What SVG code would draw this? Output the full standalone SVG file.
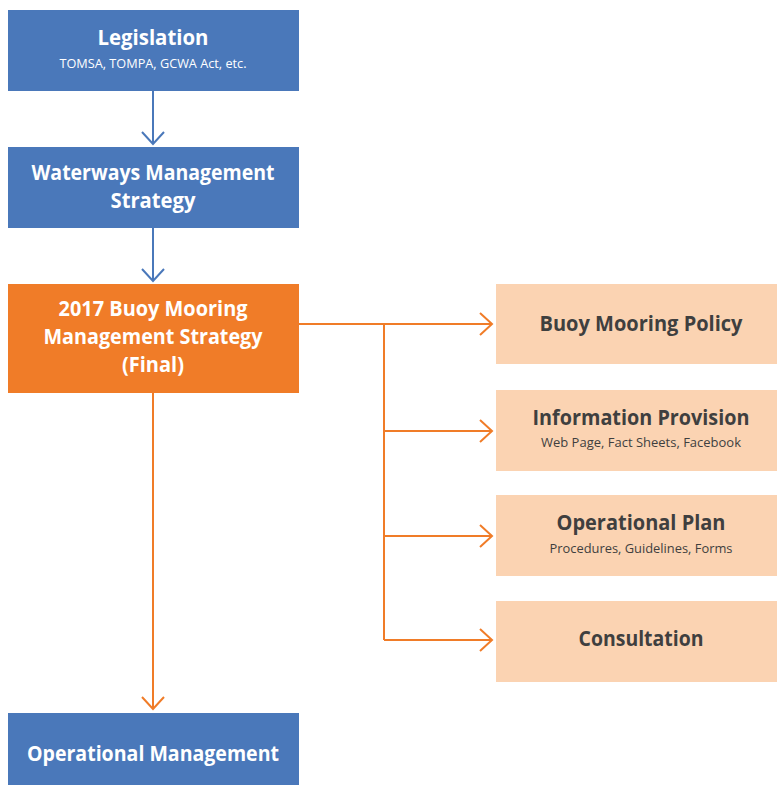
<svg xmlns="http://www.w3.org/2000/svg" width="777" height="785" viewBox="0 0 777 785">
<style>
.blue{fill:#4a78ba}
.orange{fill:#f07c28}
.peach{fill:#fbd3b2}
.t{font-family:"Open Sans","Liberation Sans",sans-serif;text-anchor:middle;font-weight:bold}
.w{fill:#ffffff}
.d{fill:#3f3f3f}
.s{font-family:"Open Sans","Liberation Sans",sans-serif;text-anchor:middle;font-size:12.5px}
.cb{stroke:#4a78ba;stroke-width:2;fill:none}
.co{stroke:#f07c28;stroke-width:2;fill:none}
</style>
<defs>
<marker id="ab" markerUnits="userSpaceOnUse" viewBox="-1 -1 14 24" refX="12" refY="11" markerWidth="14" markerHeight="24" orient="auto" overflow="visible">
<path d="M0,0 L12,11 L0,22" fill="none" stroke="#4a78ba" stroke-width="2"/>
</marker>
<marker id="ao" markerUnits="userSpaceOnUse" viewBox="-1 -1 14 24" refX="12" refY="11" markerWidth="14" markerHeight="24" orient="auto" overflow="visible">
<path d="M0,0 L12,11 L0,22" fill="none" stroke="#f07c28" stroke-width="2"/>
</marker>
</defs>
<g id="connectors">
<path class="cb" d="M153,91 V144" marker-end="url(#ab)"/>
<path class="cb" d="M153,228 V281" marker-end="url(#ab)"/>
<path class="co" d="M153,393 V709" marker-end="url(#ao)"/>
<path class="co" d="M299,324 H492" marker-end="url(#ao)"/>
<path class="co" d="M384,324 V640"/>
<path class="co" d="M384,431 H492" marker-end="url(#ao)"/>
<path class="co" d="M384,536 H492" marker-end="url(#ao)"/>
<path class="co" d="M384,640 H492" marker-end="url(#ao)"/>
</g>
<g id="legislation">
<rect class="blue" x="8" y="10" width="291" height="81"/>
<text class="t w" x="153" y="45" font-size="21" textLength="111" lengthAdjust="spacingAndGlyphs">Legislation</text>
<text class="s w" x="153" y="68" textLength="187" lengthAdjust="spacingAndGlyphs">TOMSA, TOMPA, GCWA Act, etc.</text>
</g>
<g id="waterways">
<rect class="blue" x="8" y="147" width="291" height="81"/>
<text class="t w" x="153" y="180" font-size="21" textLength="243" lengthAdjust="spacingAndGlyphs">Waterways Management</text>
<text class="t w" x="153" y="208" font-size="21" textLength="85" lengthAdjust="spacingAndGlyphs">Strategy</text>
</g>
<g id="buoy-strategy">
<rect class="orange" x="8" y="284" width="291" height="109"/>
<text class="t w" x="153" y="316" font-size="21" textLength="189" lengthAdjust="spacingAndGlyphs">2017 Buoy Mooring</text>
<text class="t w" x="153" y="344" font-size="21" textLength="219" lengthAdjust="spacingAndGlyphs">Management Strategy</text>
<text class="t w" x="153" y="372" font-size="21" textLength="62" lengthAdjust="spacingAndGlyphs">(Final)</text>
</g>
<g id="policy">
<rect class="peach" x="496" y="284" width="281" height="80"/>
<text class="t d" x="641" y="331" font-size="21" textLength="203" lengthAdjust="spacingAndGlyphs">Buoy Mooring Policy</text>
</g>
<g id="information">
<rect class="peach" x="496" y="390" width="281" height="81"/>
<text class="t d" x="641" y="425" font-size="21" textLength="217" lengthAdjust="spacingAndGlyphs">Information Provision</text>
<text class="s d" x="641" y="447" textLength="200" lengthAdjust="spacingAndGlyphs">Web Page, Fact Sheets, Facebook</text>
</g>
<g id="operational-plan">
<rect class="peach" x="496" y="495" width="281" height="81"/>
<text class="t d" x="641" y="530" font-size="21" textLength="169" lengthAdjust="spacingAndGlyphs">Operational Plan</text>
<text class="s d" x="641" y="553" textLength="183" lengthAdjust="spacingAndGlyphs">Procedures, Guidelines, Forms</text>
</g>
<g id="consultation">
<rect class="peach" x="496" y="601" width="281" height="81"/>
<text class="t d" x="641" y="646" font-size="21" textLength="125" lengthAdjust="spacingAndGlyphs">Consultation</text>
</g>
<g id="operational-management">
<rect class="blue" x="8" y="713" width="291" height="72"/>
<text class="t w" x="153" y="761" font-size="21" textLength="252" lengthAdjust="spacingAndGlyphs">Operational Management</text>
</g>
</svg>
